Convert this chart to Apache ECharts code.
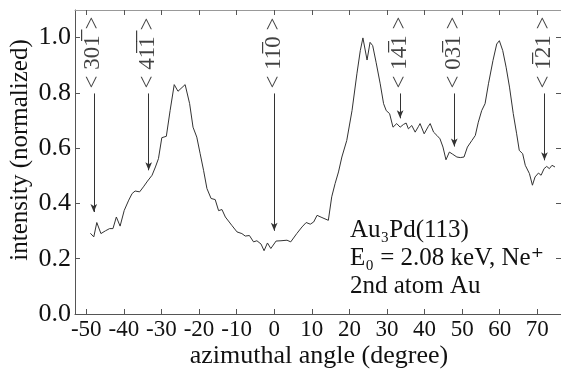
<!DOCTYPE html>
<html>
<head>
<meta charset="utf-8">
<script src="https://cdn.jsdelivr.net/npm/echarts@6/dist/echarts.min.js"></script>
<style>
  html, body { margin: 0; padding: 0; background: #fff; }
  #chart { width: 561px; height: 375px; }
</style>
</head>
<body>
<div id="chart"></div>
<script>
// azimuthal scan
const angles = [
  -48.9, -48.0, -47.2, -46.1, -44.9, -43.8, -42.9, -42.0, -41.0, -39.9,
  -38.7, -37.8, -37.0, -35.8, -34.8, -33.7, -32.5, -31.6, -30.8, -29.9,
  -28.7, -27.7, -26.6, -25.6, -23.7, -22.5, -21.6, -20.6, -19.7, -18.8,
  -17.9, -16.8, -15.7, -14.8, -13.9, -13.0, -11.3, -9.9, -8.6, -7.7,
  -6.6, -5.5, -4.6, -3.5, -2.7, -1.8, -0.9, 0.5, 1.8, 3.4,
  4.4, 6.0, 7.4, 8.5, 9.6, 10.5, 11.4, 12.7, 14.4, 15.3,
  16.2, 17.1, 18.0, 19.3, 20.7, 22.0, 22.9, 23.6, 24.7, 25.5,
  26.2, 27.1, 28.2, 29.1, 29.8, 30.7, 31.6, 32.6, 33.5, 34.4,
  35.1, 35.7, 36.6, 37.5, 38.4, 38.8, 39.9, 41.0, 41.5, 42.4,
  43.3, 44.1, 44.9, 45.7, 46.6, 47.5, 48.6, 49.5, 50.5, 51.4,
  52.6, 53.5, 54.3, 55.2, 56.1, 57.0, 58.2, 59.2, 59.9, 60.8,
  61.7, 62.6, 63.6, 64.5, 65.2, 66.1, 66.8, 67.9, 68.7, 69.4,
  70.3, 71.0, 71.8, 72.5, 73.2, 73.9, 74.7
];
const intensity = [
  0.292, 0.279, 0.331, 0.291, 0.301, 0.309, 0.309, 0.351, 0.318, 0.375,
  0.412, 0.436, 0.445, 0.442, 0.460, 0.481, 0.502, 0.532, 0.562, 0.638,
  0.643, 0.736, 0.830, 0.806, 0.830, 0.761, 0.676, 0.640, 0.580, 0.520,
  0.454, 0.418, 0.414, 0.374, 0.378, 0.351, 0.321, 0.297, 0.291, 0.282,
  0.284, 0.261, 0.265, 0.253, 0.229, 0.257, 0.237, 0.264, 0.265, 0.267,
  0.261, 0.291, 0.315, 0.331, 0.325, 0.333, 0.357, 0.349, 0.339, 0.424,
  0.472, 0.514, 0.568, 0.628, 0.736, 0.869, 0.953, 0.999, 0.919, 0.983,
  0.971, 0.911, 0.833, 0.761, 0.736, 0.725, 0.676, 0.689, 0.676, 0.686,
  0.691, 0.670, 0.682, 0.658, 0.679, 0.689, 0.652, 0.679, 0.689, 0.658,
  0.646, 0.634, 0.604, 0.558, 0.586, 0.578, 0.568, 0.566, 0.568, 0.604,
  0.628, 0.646, 0.694, 0.736, 0.761, 0.833, 0.917, 0.977, 0.989, 0.953,
  0.893, 0.821, 0.725, 0.652, 0.592, 0.580, 0.538, 0.508, 0.466, 0.496,
  0.510, 0.502, 0.526, 0.534, 0.526, 0.538, 0.532
];

// crystal directions marked with arrows
const dirLabels = ['< 301\u0305 >', '< 41\u03051\u0305 >', '< 11\u03050 >', '< 14\u03051 >', '< 03\u03051 >', '< 1\u030521 >'];
const dirAngles = [-48.0, -33.4, 0, 33.5, 47.9, 71.9];
const dirTips = [0.369, 0.52, 0.301, 0.708, 0.606, 0.556];
const arrowTop = 0.798;
const labelBase = 0.814;

const xTicks = [-50, -40, -30, -20, -10, 0, 10, 20, 30, 40, 50, 60, 70];
const yTicks = [0, 0.2, 0.4, 0.6, 0.8, 1.0];

const FONT = '"Liberation Serif", "DejaVu Serif", serif';
const INK = '#111';

const chart = echarts.init(document.getElementById('chart'));

const xBase = {
  type: 'value', min: -53, max: 76.3,
  axisLine: { show: true, onZero: false, lineStyle: { color: '#555', width: 1 } },
  splitLine: { show: false },
  axisTick: { show: true, inside: true, length: 5, customValues: xTicks, lineStyle: { color: '#555' } }
};
const yBase = {
  type: 'value', min: 0, max: 1.1,
  axisLine: { show: true, onZero: false, lineStyle: { color: '#555', width: 1 } },
  splitLine: { show: false },
  axisTick: { show: true, inside: true, length: 5, customValues: yTicks, lineStyle: { color: '#555' } }
};

chart.setOption({
  animation: false,
  backgroundColor: '#fff',
  grid: { left: 75, right: 0, top: 10, bottom: 61 },
  xAxis: [
    Object.assign({}, xBase, {
      position: 'bottom',
      axisLabel: {
        customValues: xTicks, margin: 4, color: INK, fontFamily: FONT, fontSize: 23,
        formatter: (v) => String(v)
      }
    }),
    Object.assign({}, xBase, {
      position: 'top', axisLabel: { show: false },
      axisLine: { show: true, onZero: false, lineStyle: { color: '#999', width: 1 } }
    })
  ],
  yAxis: [
    Object.assign({}, yBase, {
      position: 'left',
      axisLabel: {
        customValues: yTicks, margin: 4, color: INK, fontFamily: FONT, fontSize: 26,
        formatter: (v) => v.toFixed(1)
      }
    }),
    Object.assign({}, yBase, { position: 'right', axisLabel: { show: false } })
  ],
  series: [
    {
      type: 'line',
      data: angles.map((a, i) => [a, intensity[i]]),
      symbol: 'none',
      lineStyle: { color: '#333', width: 1 },
      markLine: {
        silent: true,
        symbol: ['none', 'arrow'],
        symbolSize: [5, 8],
        label: { show: false },
        lineStyle: { color: '#333', width: 1, type: 'solid' },
        data: dirAngles.map((a, i) => [{ coord: [a, arrowTop] }, { coord: [a, dirTips[i]] }])
      }
    },
    {
      type: 'scatter',
      symbolSize: 1,
      itemStyle: { color: 'rgba(0,0,0,0)' },
      z: 5,
      data: dirAngles.map((a, i) => ({ value: [a, labelBase], name: dirLabels[i] })),
      label: {
        show: true, position: [0, 0], rotate: 90, align: 'left', verticalAlign: 'middle',
        formatter: (p) => p.name, color: INK, fontFamily: FONT, fontSize: 23
      }
    }
  ],
  graphic: [
    {
      type: 'text', x: 20, y: 150, rotation: Math.PI / 2,
      style: { text: 'intensity (normalized)', font: '25px ' + FONT, fill: INK, align: 'center', verticalAlign: 'middle' }
    },
    {
      type: 'text', x: 319, y: 356,
      style: { text: 'azimuthal angle (degree)', font: '26px ' + FONT, fill: INK, align: 'center', verticalAlign: 'middle' }
    },
    {
      type: 'text', x: 350, y: 230,
      style: { text: 'Au\u2083Pd(113)', font: '25px ' + FONT, fill: INK, align: 'left', verticalAlign: 'middle' }
    },
    {
      type: 'text', x: 350, y: 258,
      style: { text: 'E\u2080 = 2.08 keV, Ne\u207A', font: '25px ' + FONT, fill: INK, align: 'left', verticalAlign: 'middle' }
    },
    {
      type: 'text', x: 350, y: 286,
      style: { text: '2nd atom Au', font: '25px ' + FONT, fill: INK, align: 'left', verticalAlign: 'middle' }
    }
  ]
});
</script>
</body>
</html>
